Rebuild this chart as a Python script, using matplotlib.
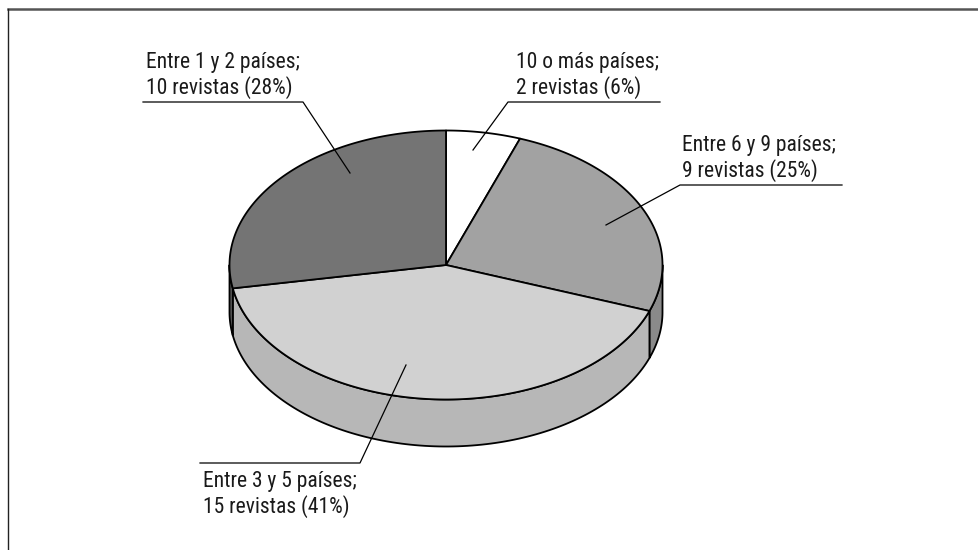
import numpy as np
import matplotlib
matplotlib.use("Agg")
import matplotlib.pyplot as plt
from matplotlib.patches import Polygon
from matplotlib import font_manager

# ---------------- data ----------------
categories = ["10 o más países", "Entre 6 y 9 países", "Entre 3 y 5 países", "Entre 1 y 2 países"]
revistas = [2, 9, 15, 10]
porcentajes = [6, 25, 41, 28]

# ---------------- style ----------------
top_colors = ["#ffffff", "#a2a2a2", "#d1d1d1", "#747474"]
side_colors = ["#e0e0e0", "#8a8a8a", "#b7b7b7", "#5a5a5a"]

# pick a narrow sans font if one is installed
names = {f.name for f in font_manager.fontManager.ttflist}
narrow = None
for cand in ["Liberation Sans Narrow", "Arial Narrow", "Roboto Condensed",
             "Open Sans Condensed", "Nimbus Sans Narrow", "Noto Sans Condensed"]:
    if cand in names:
        narrow = cand
        break
if narrow:
    font = dict(family=[narrow, "DejaVu Sans"], fontsize=15.5)
else:
    font = dict(family=["Liberation Sans", "DejaVu Sans"], fontsize=13.3)

W, H = 979, 550
fig = plt.figure(figsize=(W / 100, H / 100), dpi=100)
ax = fig.add_axes([0, 0, 1, 1])
ax.set_xlim(0, W)
ax.set_ylim(H, 0)
ax.axis("off")

cx, cy, rx, ry, depth = 446, 265, 216.5, 134.5, 47
start = 90.0  # degrees, clockwise

def pt(t_deg, dz=0.0):
    t = np.radians(t_deg)
    return cx + rx * np.cos(t), cy - ry * np.sin(t) + dz

total = float(sum(revistas))
angles = []
a = start
for v in revistas:
    a2 = a - v / total * 360.0
    angles.append((a2, a))  # counterclockwise from a2 to a
    a = a2

lw = 1.3
# side walls (front half: angles in (180, 360))
for (t1, t2), col in zip(angles, side_colors):
    lo, hi = t1 % 360, (t1 % 360) + (t2 - t1)
    for off in (-360, 0, 360):
        s = max(lo + off, 180)
        e = min(hi + off, 360)
        if e > s:
            ts = np.linspace(s, e, 120)
            upper = [pt(t) for t in ts]
            lower = [pt(t, depth) for t in ts[::-1]]
            ax.add_patch(Polygon(upper + lower, closed=True, facecolor=col,
                                 edgecolor="black", linewidth=lw, joinstyle="round"))

# top wedges
for (t1, t2), col in zip(angles, top_colors):
    ts = np.linspace(t1, t2, 200)
    verts = [(cx, cy)] + [pt(t) for t in ts]
    ax.add_patch(Polygon(verts, closed=True, facecolor=col, edgecolor="black",
                         linewidth=lw, joinstyle="round"))

# ---------------- labels ----------------
# (text x, first baseline y, leader polyline)
label_layout = [
    (516, 68, [(660, 102), (508, 102), (473, 150)]),
    (682, 151, [(842, 185), (680, 185), (606, 225)]),
    (203, 487, [(200, 463), (360, 463), (406, 365)]),
    (146, 68, [(143, 102), (303, 102), (350, 173)]),
]
line_gap = 26
for cat, n, p, (tx, ty, line) in zip(categories, revistas, porcentajes, label_layout):
    ax.text(tx, ty, f"{cat};", ha="left", va="baseline", color="#1a1a1a", **font)
    ax.text(tx, ty + line_gap, f"{n} revistas ({p}%)", ha="left", va="baseline",
            color="#1a1a1a", **font)
    xs, ys = zip(*line)
    ax.plot(xs, ys, color="black", linewidth=0.9)

# frame (top and left only)
ax.plot([8, W], [8.5, 8.5], color="#555555", linewidth=1.8)
ax.plot([8, 8], [8.5, H], color="#222222", linewidth=1.0)

fig.savefig("out.png", dpi=100)
